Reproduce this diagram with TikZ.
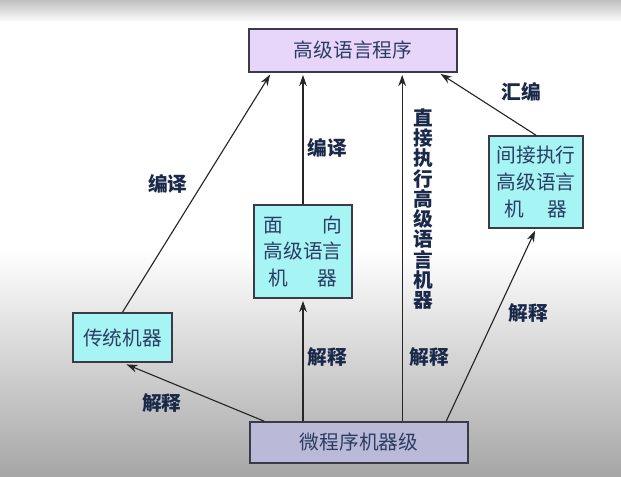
\documentclass[tikz,border=0pt]{standalone}
\usepackage{fontspec}
\setmainfont{Noto Sans CJK SC}
\usetikzlibrary{arrows.meta, positioning, calc}
\usepackage{xcolor}
\definecolor{lilas}{RGB}{232, 214, 250}
\definecolor{cianoclaro}{RGB}{166, 244, 244}
\definecolor{cinzaroxo}{RGB}{186, 186, 216}
\definecolor{borda}{RGB}{58, 58, 72}
\definecolor{tinta}{RGB}{44, 60, 98}
\definecolor{escuro}{RGB}{26, 40, 74}
\tikzset{
  caixa/.style={
    draw=borda, line width=1.1pt, inner sep=0pt, align=center,
    font=\fontsize{14}{19}\selectfont, text=tinta
  },
  caixaTopo/.style={caixa, fill=lilas, minimum width=5.2cm, minimum height=1.075cm},
  caixaMaq/.style={caixa, fill=cianoclaro},
  caixaBase/.style={caixa, fill=cinzaroxo, minimum width=5.45cm, minimum height=1.025cm},
  seta/.style={-{Stealth[length=8pt, width=5.5pt]}, line width=0.8pt, black!85, shorten >=1.5pt},
  rotulo/.style={font=\bfseries\fontsize{14}{14.4}\selectfont, text=escuro, inner sep=0pt, align=center},
}

\begin{document}
\begin{tikzpicture}[x=0.025cm, y=-0.025cm]
        % fundo
        \useasboundingbox (0,0) rectangle (621,477);
        \fill[top color=gray!50, bottom color=white] (0,0) rectangle (621,22);
        \fill[top color=white, bottom color=gray!70] (0,250) rectangle (621,477);

        \node[caixaTopo] (hll) at (353,50.5) {高级语言程序};
        \node[caixaMaq, minimum width=2.475cm, minimum height=1.225cm]
          (trad) at (122.5,337.5) {传统机器};
        \node[caixaMaq, minimum width=2.45cm, minimum height=2.325cm]
          (face) at (303,251.5) {面\hspace{2em}向\\高级语言\\机\hspace{1.5em}器};
        \node[caixaMaq, minimum width=2.35cm, minimum height=2.3cm]
          (indir) at (536,182) {间接执行\\高级语言\\机\hspace{1.2em}器};
        \node[caixaBase] (micro) at (359,442.5) {微程序机器级};

        \node[rotulo] (comp1) at (168,184) {编译};
        \node[rotulo] (comp2) at (327,148) {编译};
        \node[rotulo] (mont)  at (521,92)  {汇编};
        \node[rotulo] (direto) at (423,209) {直\\接\\执\\行\\高\\级\\语\\言\\机\\器};
        \node[rotulo] (int1) at (162,403) {解释};
        \node[rotulo] (int2) at (327,357) {解释};
        \node[rotulo] (int3) at (429,357) {解释};
        \node[rotulo] (int4) at (528,313) {解释};

        \draw[seta] (trad.north) -- ($(hll.south west)+(23,0)$);
        \draw[seta] (face.north) -- (face.north |- hll.south);
        \draw[seta] ($(micro.north west)+(153,0)$) coordinate (dir) -- (dir |- hll.south);
        \draw[seta] (indir.north) -- ($(hll.south east)+(-19,0)$);
        \draw[seta] (face.south |- micro.north) -- (face.south);
        \draw[seta, shorten >=3pt] ($(micro.north west)+(15,0)$) -- (trad.south);
        \draw[seta] ($(micro.north west)+(197,0)$) -- (indir.south);
      \end{tikzpicture}
\end{document}
